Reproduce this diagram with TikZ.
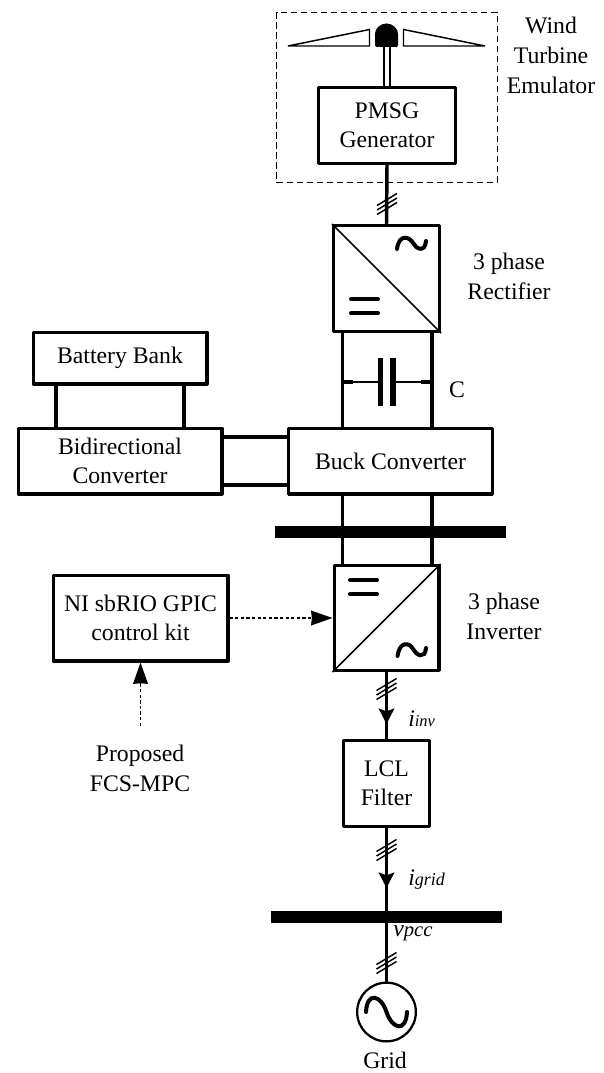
\documentclass[tikz,border=0pt]{standalone}
\usepackage{fontspec}
\setmainfont{Liberation Serif}
\usetikzlibrary{arrows.meta}
\tikzset{
 px/.style={x=0.75pt,y=-0.75pt},
 box/.style={draw,line width=2.6pt,line join=round,minimum width=0pt,inner sep=0pt,align=center,font=\fontsize{17.8}{22}\selectfont},
 lbl/.style={inner sep=0pt,align=center,font=\fontsize{17.8}{22.5}\selectfont},
 ilbl/.style={inner sep=0pt,anchor=west,font=\fontsize{17.8}{18}\selectfont\itshape},
 wire/.style={line width=2.6pt},
 thin wire/.style={line width=1.5pt},
 bus/.style={fill=black,draw=none},
 flowtip/.style={-{Stealth[length=11.5pt,width=11.5pt,inset=2pt]}},
 sigtip/.style={-{Stealth[length=16pt,width=11pt,inset=0.5pt]},line width=1.2pt,dash pattern=on 2.5pt off 1.7pt},
}
\newcommand{\boxat}[6]{\node[box,minimum width=#4*0.75pt-2.6pt,minimum height=#5*0.75pt-2.6pt] (#1) at (#2,#3) {#6};}
\newcommand{\slashes}[2]{\foreach \d in {-4.5,0,4.5}{\draw[line width=1.1pt] (#1-10,#2+\d+6) -- (#1+10,#2+\d-6);}}
\begin{document}
\begin{tikzpicture}[px]
\useasboundingbox (0,0) rectangle (603,1073);
% dashed emulator frame
\draw[line width=0.65pt,dash pattern=on 5pt off 2.5pt] (276.7,12) rectangle (497,182);
% blades and hub
\draw[line width=1.1pt,line join=miter] (288,46) -- (369.5,29.5) -- (369.5,46) -- cycle;
\draw[line width=1.1pt,line join=miter] (485,46) -- (403.5,29.5) -- (403.5,46) -- cycle;
\fill[rounded corners=1pt] (375,47) -- (375,35) arc (180:360:11.5) -- (398,47) -- cycle;
\draw[line width=1.1pt] (384,47) -- (384,86) (390,47) -- (390,86);
% boxes
\boxat{pmsg}{387}{125.5}{140}{79}{PMSG\\Generator}
\boxat{rect}{386.5}{278.5}{109}{109}{}
\boxat{batt}{120}{358}{177}{55}{Battery Bank}
\boxat{bidir}{120}{461}{207}{69}{Bidirectional\\Converter}
\boxat{buck}{390.5}{461}{207}{69}{Buck Converter}
\boxat{inv}{386.5}{618}{108}{108}{}
\boxat{ni}{140.5}{618}{178}{89}{NI sbRIO GPIC\\control kit}
\boxat{lcl}{386.5}{783.5}{89}{89}{LCL\\Filter}
\node[draw,circle,line width=1.7pt,minimum size=61*0.75pt-1.7pt,inner sep=0pt] (gridsrc) at (386.5,1012) {};
% buses
\node[bus,minimum width=231*0.75pt,minimum height=12*0.75pt,inner sep=0pt] (bus1) at (390.5,532) {};
\node[bus,minimum width=231*0.75pt,minimum height=12*0.75pt,inner sep=0pt] (bus2) at (386.5,917) {};
% rectifier symbol
\draw[line width=1.2pt] (rect.north west) -- (rect.south east);
\draw[line width=3pt,line cap=round] (351,299) -- (378,299) (351,313) -- (378,313);
\draw[line width=3pt,line cap=round] (397,249) .. controls (399,233) and (410,237) .. (413,243) .. controls (416,249) and (425,253) .. (426,241);
% inverter symbol
\draw[line width=1.2pt] (inv.north east) -- (inv.south west);
\draw[line width=3pt,line cap=round] (350,580) -- (377,580) (350,594) -- (377,594);
\draw[line width=3pt,line cap=round] (397.5,656) .. controls (400,640) and (410,643) .. (413,649) .. controls (416,655) and (425,660) .. (426,648);
% grid source symbol
\draw[line width=3pt,line cap=round] (366,1012) .. controls (367,991) and (381,995) .. (386.5,1012) .. controls (392,1029) and (406,1033) .. (407,1012);
% wires
\draw[wire] (pmsg.south) -- (rect.north);
\slashes{387}{204}
\draw[wire] (342.5,333) -- (342.5,427);
\draw[wire] (432,333) -- (432,427);
\draw[thin wire] (342,382) -- (380,382) (393,382) -- (432,382);
\draw[line width=3.4pt] (342,382) -- (353,382) (421,382) -- (432,382);
\draw[line width=4pt] (380.5,358) -- (380.5,406) (393,358) -- (393,406);
\draw[wire] (56,385) -- (56,427) (184,385) -- (184,427);
\draw[wire] (223,437) -- (287,437) (223,485) -- (287,485);
\draw[wire] (342.5,495) -- (342.5,565) (432,495) -- (432,565);
% inverter down
\draw[wire] (inv.south) -- (lcl.north);
\draw[wire,flowtip] (inv.south) -- (386.5,724);
\slashes{386.5}{689}
\draw[wire] (lcl.south) -- (bus2.north);
\draw[wire,flowtip] (lcl.south) -- (386.5,888);
\slashes{386.5}{850}
\draw[wire] (bus2.south) -- (gridsrc.north);
\slashes{386.5}{963}
% signals
\draw[sigtip] (ni.east) -- (inv.west);
\coordinate (mpc) at (140.5,726);
\draw[sigtip] (mpc) -- (ni.south);
% labels
\node[lbl] (wt) at (551,55) {Wind\\Turbine\\Emulator};
\node[lbl] (rl) at (509,276) {3 phase\\Rectifier};
\node[lbl] (il) at (504,616) {3 phase\\Inverter};
\node[lbl] (cl) at (457,390) {C};
\node[lbl] (fcs) at (140,768) {Proposed\\FCS-MPC};
\node[lbl] (gl) at (385,1060) {Grid};
\node[ilbl] (iinv) at (408,719) {i\fontsize{12.4}{12}\selectfont inv};
\node[ilbl] (igrid) at (408,880) {i\fontsize{13.5}{12}\selectfont grid};
\node[ilbl] (vpcc) at (393,933) {v\fontsize{15.5}{12}\selectfont pcc};
\end{tikzpicture}
\end{document}
